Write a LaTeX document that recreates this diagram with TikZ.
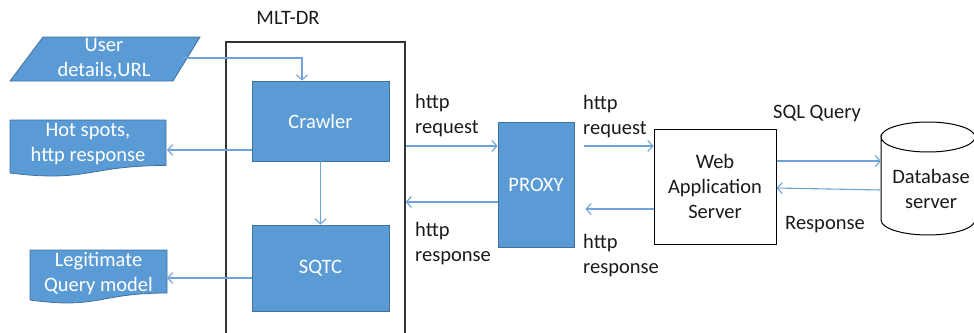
\documentclass[tikz,border=0pt]{standalone}
\usepackage{fontspec}
\setmainfont{Carlito}
\usetikzlibrary{arrows.meta}
\definecolor{boxblue}{HTML}{5B9BD5}
\definecolor{boxedge}{HTML}{41719C}
\definecolor{arrblue}{HTML}{6FA3D8}
\definecolor{txtdark}{HTML}{1A1A1A}
\begin{document}
\begin{tikzpicture}[x=1pt,y=-1pt,
  font=\fontsize{20.5}{25}\selectfont,
  bluebox/.style={draw=boxedge, fill=boxblue, line width=0.8pt, text=white, inner sep=0pt, align=center},
  blueshape/.style={draw=boxedge, fill=boxblue, line width=0.8pt},
  whitetext/.style={text=white, inner sep=0pt, align=center},
  lbl/.style={text=txtdark, inner sep=0pt, align=left},
  clbl/.style={text=txtdark, inner sep=0pt, align=center},
  frame/.style={draw=black!80, line width=1.3pt},
  arr/.style={draw=arrblue, line width=1.1pt, -{Straight Barb[length=5pt,width=11pt]}},
]
\useasboundingbox (0,0) rectangle (974,332);
\begin{scope}
\clip (0,0) rectangle (974,332);

% MLT-DR frame
\node[frame, minimum width=179pt, minimum height=303pt, inner sep=0pt] (mlt) at (315.5,193.5) {};
\node[clbl] (mltlbl) at (288,18) {MLT-DR};

% inner boxes
\node[bluebox, minimum width=137pt, minimum height=80pt] (crawler) at (320.5,121) {Crawler};
\node[bluebox, minimum width=137pt, minimum height=86pt] (sqtc) at (320.5,268) {SQTC};

% user details parallelogram
\path[blueshape] (43,37) -- (200,37) -- (173,81) -- (10,81) -- cycle;
\node[whitetext] (user) at (104,59) {User\\details,URL};
\coordinate (userR) at (182,58);

% hot spots document
\path[blueshape] (10,120) -- (166,120) -- (166,165.5)
  .. controls (88,165.5) and (88,182.8) .. (10,173) -- cycle;
\node[whitetext] (hot) at (88,144) {Hot spots,\\http response};
\coordinate (hotR) at (167,150);

% legitimate query model document
\path[blueshape] (30,250) -- (167,250) -- (167,293)
  .. controls (98.5,293) and (98.5,309.5) .. (30,300) -- cycle;
\node[whitetext] (leg) at (98.5,273.5) {Legitimate\\Query model};
\coordinate (legR) at (167,278);

% proxy
\node[bluebox, minimum width=76pt, minimum height=125pt] (proxy) at (536,184.5) {PROXY};

% web application server
\node[draw=black, line width=1pt, fill=white, minimum width=122pt, minimum height=115pt, inner sep=0pt, align=center, text=txtdark] (was) at (715,186.5) {Web\\Application\\Server};

% database cylinder
\path[draw=black, line width=1pt, fill=white]
  (881,137) -- (881,220) arc[start angle=180, end angle=360, x radius=47, y radius=-15]
  -- (975,137) arc[start angle=0, end angle=-180, x radius=47, y radius=-15] -- cycle;
\draw[black, line width=1pt] (881,137) arc[start angle=180, end angle=360, x radius=47, y radius=15];
\node[clbl] (db) at (931,188.5) {Database\\server};
\coordinate (dbW) at (881,175);

% labels
\node[lbl, anchor=west] (lreq) at (415,115.5) {http\\request};
\node[lbl, anchor=west] (lres) at (415,243.5) {http\\response};
\node[lbl, anchor=west] (rreq) at (583,116.5) {http\\request};
\node[lbl, anchor=west] (rres) at (583,255.5) {http\\response};
\node[clbl] (sql) at (817,113) {SQL Query};
\node[clbl] (resp) at (825,225) {Response};

% connectors
\draw[arr] (userR) -| ([xshift=-18.5pt]crawler.north);
\draw[arr] (crawler.south) -- (sqtc.north);
\draw[arr] (crawler.west |- hotR) -- (hotR);
\draw[arr] (sqtc.west |- legR) -- (legR);
\draw[arr] (mlt.east |- 0,146) -- (proxy.west |- 0,146);
\draw[arr] (proxy.west |- 0,202) -- (mlt.east |- 0,202);
\draw[arr] ([xshift=10pt]proxy.east |- 0,146) -- (was.west |- 0,146);
\draw[arr] (was.west |- 0,209) -- ([xshift=11pt]proxy.east |- 0,209);
\draw[arr] (was.east |- 0,161) -- (dbW |- 0,161);
\draw[arr] (dbW |- 0,190) -- (was.east |- 0,188);
\end{scope}
\end{tikzpicture}
\end{document}
